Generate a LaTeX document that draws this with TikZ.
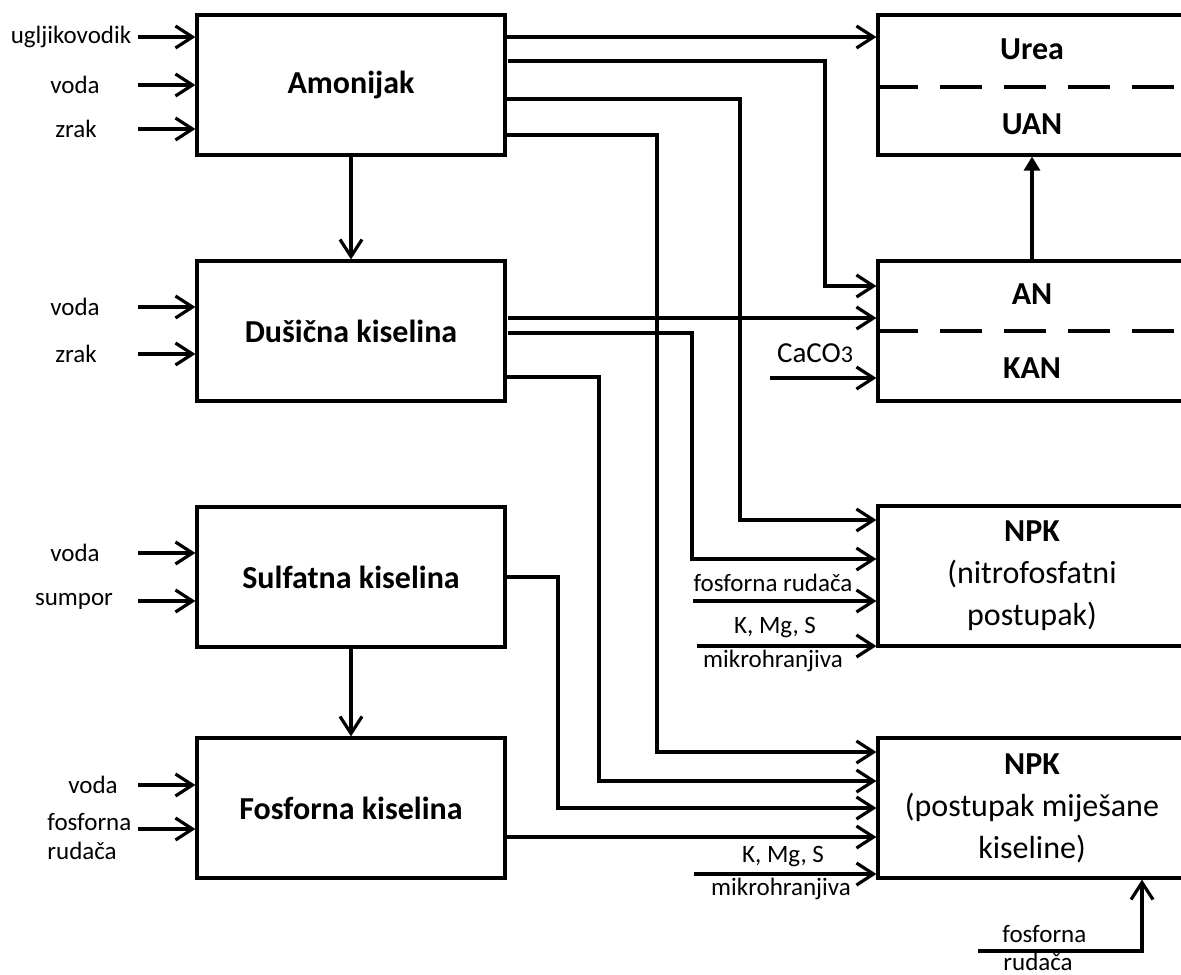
\documentclass[tikz,border=0pt]{standalone}
\usepackage{fontspec}
\setmainfont{Carlito}
\usetikzlibrary{arrows.meta}

\tikzset{
  x=0.5pt, y=-0.5pt,
  box/.style={draw, line width=1.6pt, minimum width=154pt, minimum height=70pt,
    inner sep=0pt, align=center, font=\fontsize{16}{21}\selectfont},
  lbl/.style={inner sep=0pt, font=\fontsize{12.5}{14}\selectfont},
  ttl/.style={inner sep=0pt, font=\bfseries\fontsize{16}{21}\selectfont},
  arr/.style={line width=1.6pt, -{Straight Barb[length=8.5pt,width=11pt,line width=1.6pt]}},
  uparr/.style={line width=1.6pt, -{Triangle[length=7pt,width=8pt]}},
  sep/.style={line width=1.6pt, dash pattern=on 21pt off 11pt},
}

\begin{document}
\begin{tikzpicture}
	\useasboundingbox (0,0) rectangle (1181,974);
	% left column
	\node[box, font=\bfseries\fontsize{16}{21}\selectfont] (amon) at (351,85) {Amonijak};
	\node[box, font=\bfseries\fontsize{16}{21}\selectfont] (dus) at (351,331) {Dušična kiselina};
	\node[box, font=\bfseries\fontsize{16}{21}\selectfont] (sulf) at (351,577) {Sulfatna kiselina};
	\node[box, font=\bfseries\fontsize{16}{21}\selectfont] (fosf) at (351,808) {Fosforna kiselina};
	% right column
	\node[box] (urea) at (1032,85) {};
	\node[box] (an) at (1032,331) {};
	\node[box] (npka) at (1032,576) {\textbf{NPK}\\(nitrofosfatni\\postupak)};
	\node[box] (npkb) at (1032,808) {\textbf{NPK}\\(postupak miješane\\kiseline)};
	\node[ttl] (tu) at (1032,49) {Urea};
	\node[ttl] (tuan) at (1032,124) {UAN};
	\node[ttl] (tan) at (1032,294) {AN};
	\node[ttl] (tkan) at (1032,368) {KAN};
	\draw[sep] (urea.west |- 0,87) -- (urea.east |- 0,87);
	\draw[sep] (an.west |- 0,331) -- (an.east |- 0,331);

	% inputs on the left
	\node[lbl] (i1) at (71,37) {ugljikovodik};
	\node[lbl] (i2) at (75,85) {voda};
	\node[lbl] (i3) at (76,129) {zrak};
	\node[lbl] (i4) at (75,307) {voda};
	\node[lbl] (i5) at (76,354) {zrak};
	\node[lbl] (i6) at (75,553) {voda};
	\node[lbl] (i7) at (74,601) {sumpor};
	\node[lbl] (i8) at (93,785) {voda};
	\node[lbl, anchor=west] (i9) at (47,822) {fosforna};
	\node[lbl, anchor=west] (i10) at (47,851) {rudača};
	\draw[arr] (i1 -| 138,0) -- (i1 -| amon.west);
	\draw[arr] (i2 -| 138,0) -- (i2 -| amon.west);
	\draw[arr] (i3 -| 138,0) -- (i3 -| amon.west);
	\draw[arr] (i4 -| 138,0) -- (i4 -| dus.west);
	\draw[arr] (i5 -| 138,0) -- (i5 -| dus.west);
	\draw[arr] (i6 -| 138,0) -- (i6 -| sulf.west);
	\draw[arr] (i7 -| 138,0) -- (i7 -| sulf.west);
	\draw[arr] (i8 -| 138,0) -- (i8 -| fosf.west);
	\draw[arr] (138,829) -- (fosf.west |- 0,829);

	% between the acids
	\draw[arr] (amon.south) -- (dus.north);
	\draw[arr] (sulf.south) -- (fosf.north);
	\draw[uparr] (an.north) -- (urea.south);

	% Amonijak out
	\draw[arr] (amon.east |- 0,37) -- (urea.west |- 0,37);
	\draw[arr] (508,61) -- (825,61) |- (an.west |- 0,286);
	\draw[arr] (amon.east |- 0,99) -- (740,99) |- (npka.west |- 0,520);
	\draw[arr] (amon.east |- 0,135) -- (657,135) |- (npkb.west |- 0,752);
	% Dušična kiselina out
	\draw[arr] (508,318) -- (an.west |- 0,318);
	\draw[arr] (508,333) -- (692,333) |- (npka.west |- 0,559);
	\draw[arr] (dus.east |- 0,377) -- (599,377) |- (npkb.west |- 0,781);
	% Sulfatna / Fosforna out
	\draw[arr] (sulf.east |- 0,577) -- (558,577) |- (npkb.west |- 0,808);
	\draw[arr] (fosf.east |- 0,837) -- (npkb.west |- 0,837);

	% other inputs
	\node[lbl, font=\fontsize{14.5}{16}\selectfont] (caco) at (815,353) {CaCO{\fontsize{12}{12}\selectfont 3}};
	\draw[arr] (770,378) -- (an.west |- 0,378);
	\node[lbl] (fra) at (773,583) {fosforna rudača};
	\draw[arr] (693,601) -- (npka.west |- 0,601);
	\node[lbl] (kma) at (775,628) {K, Mg, S};
	\node[lbl] (mha) at (773,661) {mikrohranjiva};
	\draw[arr] (697,646) -- (npka.west |- 0,646);
	\node[lbl] (kmb) at (783,857) {K, Mg, S};
	\node[lbl] (mhb) at (781,889) {mikrohranjiva};
	\draw[arr] (694,874) -- (npkb.west |- 0,874);
	\node[lbl, anchor=west] (frb1) at (1002,934) {fosforna};
	\node[lbl, anchor=west] (frb2) at (1003,962) {rudača};
	\draw[arr] (978,951) -| (npkb.south -| 1142,0);
\end{tikzpicture}
\end{document}
